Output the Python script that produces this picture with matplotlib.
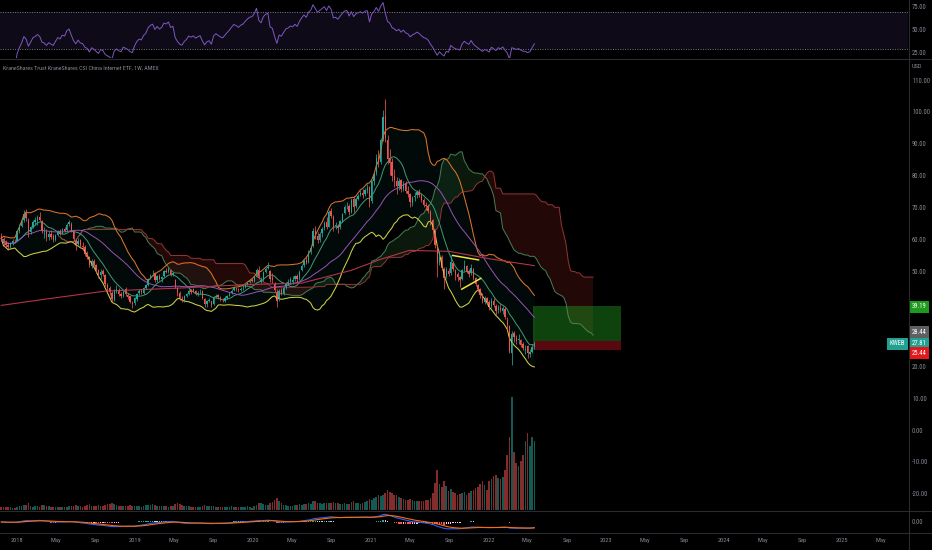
import numpy as np
import pandas as pd
import matplotlib
matplotlib.use("Agg")
import matplotlib.pyplot as plt
import matplotlib.dates as mdates
from matplotlib import font_manager
from matplotlib.lines import Line2D
from matplotlib.transforms import blended_transform_factory

# ---------------- weekly KWEB bars (first week starts 2017-11-13) ----------------
opens = [
    61.2, 60.4, 59.2,
    58.5, 57.9, 59.0, 59.8,
    59.9, 62.9, 64.6, 66.2, 68.4,
    66.5, 62.6, 64.3, 65.7,
    65.9, 67.3, 66.0, 62.1,
    62.6, 61.0, 62.0, 61.2, 60.0,
    61.7, 62.9, 62.0, 63.6,
    63.2, 65.0, 65.2, 62.8,
    60.1, 58.7, 60.0, 58.1, 58.0,
    55.5, 54.6, 52.0, 53.6,
    52.1, 50.5, 49.2, 50.3,
    49.1, 46.0, 45.0, 43.4, 41.3,
    44.1, 44.4, 43.0, 42.6,
    44.8, 42.8, 42.3, 40.4, 40.1,
    41.6, 43.3, 44.1, 43.5,
    45.0, 45.9, 48.0, 49.3,
    49.6, 47.5, 48.9, 47.7,
    48.7, 50.4, 50.1, 50.6, 49.0,
    47.4, 45.0, 43.4, 41.6,
    41.0, 42.5, 43.1, 44.2,
    44.6, 44.1, 43.0, 43.6, 43.9,
    41.5, 39.8, 41.0, 40.8,
    39.9, 42.0, 42.7, 41.8, 41.2,
    41.0, 41.9, 42.6, 43.3,
    44.2, 45.0, 44.7, 44.3,
    44.9, 45.2, 46.0, 46.7, 47.4,
    47.2, 48.5, 50.7, 46.9,
    47.8, 50.1, 51.2, 50.3,
    48.0, 46.2, 43.8, 41.5, 44.2,
    43.2, 45.2, 46.4, 47.0,
    46.8, 47.8, 48.9, 48.0,
    50.5, 52.1, 53.8, 53.0, 56.2,
    58.1, 63.0, 61.3, 60.0,
    62.2, 63.8, 65.6, 64.3, 69.1,
    67.4, 64.5, 64.4, 64.0,
    66.1, 68.6, 70.6, 70.7,
    69.0, 72.8, 70.6, 73.1, 74.2,
    75.0, 74.5, 75.9, 76.6,
    72.3, 78.7, 81.2, 86.3,
    84.5, 91.8, 99.0, 91.6,
    86.0, 84.5, 80.3, 78.6, 77.0,
    78.8, 76.2, 77.9, 75.6,
    74.4, 71.6, 73.5, 74.2, 75.3,
    74.0, 72.7, 71.0, 70.8,
    69.0, 66.2, 63.0, 58.0,
    53.3, 54.8, 51.0, 48.7, 50.3,
    49.6, 52.8, 50.5, 49.3,
    48.3, 47.8, 50.8, 51.9,
    50.2, 49.6, 51.0, 48.0, 45.8,
    44.6, 42.9, 40.6, 41.7,
    40.5, 39.2, 41.0, 39.3, 38.0,
    38.6, 37.6, 38.4, 35.0,
    32.9, 24.4, 30.9, 29.2,
    28.6, 28.5, 27.4, 25.5,
    26.6, 24.2, 25.0, 26.4,
]
highs = [
    62.3, 61.0, 60.1,
    59.3, 59.4, 60.5, 60.3,
    63.1, 65.2, 66.8, 69.4, 69.8,
    67.0, 64.6, 66.3, 67.4,
    68.0, 68.9, 66.4, 64.0,
    63.5, 62.9, 63.1, 61.9, 62.0,
    63.3, 63.6, 63.9, 64.2,
    65.3, 66.5, 65.7, 63.1,
    60.5, 60.6, 60.4, 59.3, 58.4,
    56.6, 55.0, 54.2, 54.0,
    52.5, 51.0, 50.9, 50.9,
    49.4, 46.5, 45.6, 44.1, 44.6,
    45.8, 44.9, 43.6, 44.3,
    45.3, 43.4, 42.6, 41.0, 42.1,
    43.5, 44.7, 44.6, 45.4,
    46.3, 48.2, 49.5, 50.6,
    49.9, 49.1, 49.4, 48.9,
    50.6, 51.2, 51.6, 50.9, 50.0,
    47.9, 45.4, 43.9, 42.3,
    42.7, 43.5, 44.6, 44.5,
    45.1, 44.3, 43.9, 44.5, 44.2,
    41.7, 41.2, 41.9, 41.0,
    42.3, 43.1, 43.0, 42.4, 41.8,
    42.3, 42.9, 43.6, 44.5,
    45.6, 45.4, 45.0, 45.2,
    45.8, 46.3, 47.0, 47.5, 48.0,
    48.8, 51.2, 51.9, 48.3,
    50.3, 51.7, 53.3, 50.6,
    49.7, 47.0, 44.6, 44.8, 45.0,
    45.6, 47.0, 47.8, 48.4,
    48.6, 49.2, 49.4, 50.5,
    52.6, 54.2, 55.0, 56.8, 58.1,
    63.9, 64.5, 62.6, 62.7,
    64.1, 66.0, 67.4, 69.5, 70.2,
    67.9, 65.8, 65.2, 66.4,
    68.7, 71.0, 72.1, 71.4,
    73.4, 73.9, 73.5, 74.6, 75.7,
    76.1, 76.4, 77.6, 77.2,
    79.0, 81.6, 87.0, 88.4,
    92.0, 101.0, 104.3, 93.2,
    88.6, 85.9, 82.4, 80.0, 79.6,
    79.4, 78.5, 78.6, 76.9,
    75.0, 74.0, 75.2, 75.9, 76.0,
    74.8, 73.2, 72.0, 71.3,
    69.6, 66.8, 63.6, 58.6,
    56.6, 55.4, 51.6, 51.5, 51.2,
    55.3, 53.3, 51.0, 50.0,
    48.9, 51.0, 53.7, 52.3,
    50.8, 52.5, 51.4, 48.5, 46.3,
    45.0, 43.5, 42.3, 42.0,
    41.2, 41.8, 41.7, 39.8, 39.6,
    39.8, 39.4, 38.9, 35.8,
    33.2, 31.6, 31.5, 30.1,
    30.4, 29.0, 28.1, 27.2,
    27.0, 25.8, 27.4, 28.4,
]
lows = [
    59.8, 58.3, 57.9,
    56.9, 57.2, 58.6, 59.0,
    59.6, 62.3, 64.0, 65.8, 66.1,
    61.0, 61.9, 63.9, 64.8,
    64.9, 65.9, 62.4, 60.6,
    59.7, 60.2, 60.5, 59.4, 59.6,
    61.2, 61.6, 61.8, 62.5,
    62.9, 64.4, 62.6, 59.8,
    57.0, 58.2, 57.7, 56.8, 55.1,
    54.0, 51.5, 51.2, 51.8,
    49.8, 48.2, 47.9, 48.9,
    45.6, 43.8, 42.8, 40.6, 40.9,
    43.5, 42.3, 41.7, 42.1,
    42.6, 41.6, 40.1, 38.8, 39.7,
    40.8, 42.9, 43.0, 43.1,
    44.6, 45.6, 47.7, 48.6,
    47.0, 46.9, 47.5, 46.8,
    48.5, 49.6, 49.7, 48.7, 48.6,
    44.9, 42.4, 41.2, 40.6,
    40.5, 42.0, 42.9, 43.1,
    43.7, 42.7, 42.6, 43.2, 41.6,
    38.9, 39.0, 40.5, 39.1,
    39.7, 41.8, 41.6, 41.0, 40.5,
    40.6, 41.6, 42.4, 43.0,
    44.0, 44.1, 43.6, 43.9,
    44.3, 44.9, 45.8, 46.4, 46.9,
    46.8, 48.3, 47.8, 46.4,
    47.1, 49.6, 50.9, 46.8,
    46.5, 43.6, 39.0, 41.0, 42.8,
    42.9, 44.8, 45.9, 46.5,
    46.2, 47.3, 46.7, 47.6,
    50.2, 51.6, 52.4, 52.8, 55.7,
    57.9, 60.3, 59.1, 59.4,
    61.0, 63.1, 63.6, 64.0, 67.0,
    62.8, 63.5, 62.3, 63.6,
    65.8, 68.2, 69.8, 68.0,
    68.5, 68.9, 70.1, 72.5, 73.8,
    73.2, 73.9, 74.8, 70.5,
    71.8, 77.4, 80.6, 83.1,
    84.0, 91.3, 91.0, 84.0,
    80.5, 78.6, 76.6, 74.5, 75.9,
    75.2, 75.5, 74.8, 73.7,
    70.3, 70.6, 72.4, 73.3, 73.5,
    71.9, 70.4, 69.5, 68.4,
    64.9, 62.0, 57.6, 48.4,
    52.1, 50.6, 44.8, 48.0, 48.6,
    49.2, 50.2, 47.6, 47.1,
    45.2, 47.4, 50.3, 49.6,
    48.3, 49.1, 47.6, 45.5, 43.8,
    41.9, 40.2, 39.8, 40.0,
    38.0, 38.7, 38.9, 36.4, 37.2,
    37.3, 36.9, 35.3, 31.9,
    24.6, 20.8, 28.0, 27.3,
    27.5, 26.5, 25.5, 24.2,
    23.0, 23.4, 24.6, 25.8,
]
closes = [
    60.5, 59.0, 58.6,
    57.8, 58.9, 59.6, 59.7,
    62.8, 64.5, 66.0, 68.2, 66.9,
    62.5, 64.0, 65.8, 66.3,
    67.1, 66.2, 63.0, 62.4,
    60.9, 61.8, 61.0, 60.2, 61.5,
    62.8, 62.1, 63.4, 63.0,
    64.9, 65.6, 63.1, 60.4,
    58.6, 59.9, 58.2, 57.9, 55.6,
    54.8, 52.1, 53.4, 52.3,
    50.7, 49.0, 50.1, 49.5,
    46.2, 44.9, 43.6, 41.5, 43.9,
    44.6, 43.1, 42.4, 43.8,
    43.0, 42.2, 40.6, 39.9, 41.8,
    43.2, 44.0, 43.6, 45.1,
    45.8, 47.9, 48.9, 49.4,
    47.6, 48.8, 47.9, 48.5,
    50.3, 50.0, 50.8, 49.1, 49.6,
    45.2, 43.3, 41.7, 41.2,
    42.3, 43.0, 44.1, 43.6,
    44.0, 43.1, 43.5, 43.8, 41.9,
    40.0, 40.8, 41.1, 39.6,
    41.9, 42.6, 42.0, 41.4, 41.1,
    41.8, 42.5, 43.2, 44.1,
    44.9, 44.6, 44.2, 44.8,
    45.1, 45.9, 46.6, 47.2, 47.3,
    48.4, 50.6, 48.2, 47.6,
    49.9, 51.0, 51.6, 47.9,
    47.5, 44.4, 40.9, 44.0, 43.4,
    45.0, 46.5, 46.9, 47.8,
    47.5, 48.6, 47.9, 50.1,
    52.0, 53.6, 52.9, 56.0, 57.6,
    62.8, 61.5, 60.2, 61.9,
    63.5, 65.4, 64.1, 68.9, 67.7,
    64.2, 64.6, 63.8, 65.9,
    68.3, 70.4, 70.9, 68.8,
    72.6, 70.5, 72.9, 74.0, 74.8,
    74.3, 75.8, 76.4, 72.0,
    78.5, 80.9, 86.0, 84.2,
    91.5, 98.6, 92.1, 85.6,
    84.2, 80.1, 79.0, 77.2, 78.5,
    76.0, 77.8, 75.4, 74.6,
    71.9, 73.3, 74.0, 75.1, 74.2,
    72.5, 71.1, 70.6, 69.2,
    66.0, 63.1, 58.4, 52.9,
    54.6, 51.3, 48.2, 50.5, 49.4,
    53.0, 50.8, 49.1, 48.5,
    47.6, 50.6, 52.0, 50.4,
    49.3, 51.2, 48.1, 46.2, 44.5,
    42.7, 40.8, 41.6, 40.6,
    39.0, 40.9, 39.5, 37.8, 38.9,
    37.9, 38.6, 36.0, 33.4,
    25.2, 30.4, 29.6, 28.4,
    28.8, 27.2, 26.0, 25.9,
    24.6, 24.9, 26.3, 27.81,
]
# weekly volume, millions of shares
volumes = [
    9, 8, 7,
    8, 7, 6, 5,
    9, 10, 11, 14, 13,
    18, 12, 9, 10,
    10, 9, 13, 14,
    12, 10, 9, 9, 8,
    8, 9, 8, 7,
    8, 10, 11, 12,
    13, 11, 10, 9, 12,
    13, 16, 12, 11,
    12, 13, 11, 10,
    15, 16, 17, 19, 16,
    14, 12, 11, 10,
    12, 11, 13, 12, 10,
    11, 10, 9, 12,
    13, 14, 15, 16,
    14, 12, 11, 10,
    11, 10, 9, 10, 11,
    17, 19, 16, 14,
    12, 11, 10, 9,
    9, 8, 8, 9, 10,
    14, 12, 11, 10,
    10, 9, 9, 8, 9,
    9, 8, 9, 10,
    9, 8, 8, 7,
    8, 9, 10, 7, 6,
    12, 15, 18, 20,
    16, 14, 13, 18,
    22, 28, 32, 24, 18,
    15, 13, 12, 11,
    12, 13, 15, 16,
    15, 16, 17, 18, 16,
    26, 24, 20, 18,
    17, 18, 19, 20, 18,
    22, 19, 18, 16,
    17, 18, 16, 17,
    22, 25, 20, 18, 17,
    20, 22, 24, 30,
    28, 32, 36, 40,
    38, 42, 48, 55,
    50, 46, 42, 40, 36,
    32, 30, 28, 27,
    30, 28, 26, 25, 24,
    26, 25, 27, 28,
    34, 48, 75, 110,
    70, 62, 80, 66, 52,
    58, 50, 46, 42,
    44, 48, 50, 42,
    46, 52, 56, 60, 64,
    72, 80, 68, 54,
    80, 86, 92, 96, 88,
    84, 90, 110, 150,
    200, 310, 160, 130,
    120, 135, 150, 190,
    210, 175, 200, 190,
]

# long-term (200-week) moving average, sampled along its path
ma200_dates = ["2017-11-13", "2018-04-01", "2018-10-01", "2019-06-01", "2019-12-01",
               "2020-06-01", "2020-11-01", "2021-02-01", "2021-05-01", "2021-09-01",
               "2022-01-01", "2022-05-23"]
ma200_vals = [39.5, 41.5, 44.0, 45.0, 46.0, 46.5, 50.5, 54.0, 56.8, 56.5, 54.2, 52.0]

# hand-drawn pennant lines
tri_upper_dates = ["2021-09-12", "2021-12-01"]
tri_upper_px = [55.2, 53.8]
tri_lower_dates = ["2021-10-10", "2021-12-08"]
tri_lower_px = [44.6, 48.0]

# long position tool
entry_px, target_px, stop_px = 28.44, 39.19, 25.44
last_px = 27.81
pos_start, pos_end = "2022-05-20", "2023-02-15"

price_ticks = [110, 100, 90, 80, 70, 60, 50, 20, 10, 0, -10, -20]
rsi_ticks = [75, 50, 25]
time_ticks = ["2018-01-01", "2018-05-01", "2018-09-01", "2019-01-01", "2019-05-01",
              "2019-09-01", "2020-01-01", "2020-05-01", "2020-09-01", "2021-01-01",
              "2021-05-01", "2021-09-01", "2022-01-01", "2022-05-01", "2022-09-01",
              "2023-01-01", "2023-05-01", "2023-09-01", "2024-01-01", "2024-05-01",
              "2024-09-01", "2025-01-01", "2025-05-01"]
time_labels = ["2018", "May", "Sep", "2019", "May", "Sep", "2020", "May", "Sep",
               "2021", "May", "Sep", "2022", "May", "Sep", "2023", "May", "Sep",
               "2024", "May", "Sep", "2025", "May"]
title = "KraneShares Trust KraneShares CSI China Internet ETF, 1W, AMEX"

# ---------------- fonts / colours ----------------
names = {f.name for f in font_manager.fontManager.ttflist}
FONT, LBL = "Lato", 4.0
for cand in ("Liberation Sans Narrow", "Roboto Condensed", "Open Sans Condensed", "Noto Sans Condensed"):
    if cand in names:
        FONT, LBL = cand, 4.8
        break
plt.rcParams["font.family"] = [FONT, "DejaVu Sans"]
BG = "#000000"
TXT = "#868993"
UP, DN = "#26a69a", "#ef5350"
SEP = "#2a2b30"

# ---------------- data frame and indicators ----------------
dates = pd.date_range("2017-11-13", periods=len(closes), freq="W-MON")
df = pd.DataFrame({"o": opens, "h": highs, "l": lows, "c": closes, "v": volumes}, index=dates)
c = df["c"]

basis = c.rolling(20, min_periods=1).mean()
sd = c.rolling(20, min_periods=1).std(ddof=0)
bb_up, bb_lo = basis + 2 * sd, basis - 2 * sd
sma10 = c.rolling(10, min_periods=1).mean()
sma30 = c.rolling(30, min_periods=1).mean()


def donchian_mid(n):
    return (df["h"].rolling(n, min_periods=1).max() + df["l"].rolling(n, min_periods=1).min()) / 2


tenkan, kijun, spanb_raw = donchian_mid(9), donchian_mid(26), donchian_mid(52)
future = pd.date_range(dates[-1] + pd.Timedelta(weeks=1), periods=26, freq="W-MON")
full_idx = dates.append(future)
span_a = ((tenkan + kijun) / 2).reindex(full_idx).shift(26)
span_b = spanb_raw.reindex(full_idx).shift(26)

delta = c.diff()
gain = delta.clip(lower=0).ewm(alpha=1 / 14, adjust=False).mean()
loss = (-delta.clip(upper=0)).ewm(alpha=1 / 14, adjust=False).mean()
rsi = 100 - 100 / (1 + gain / loss)

ema12 = c.ewm(span=12, adjust=False).mean()
ema26 = c.ewm(span=26, adjust=False).mean()
macd = ema12 - ema26
signal = macd.ewm(span=9, adjust=False).mean()
hist = macd - signal

x = mdates.date2num(dates)
xf = mdates.date2num(full_idx)

# ---------------- figure layout ----------------
W, H = 932, 550
fig = plt.figure(figsize=(W / 100, H / 100), dpi=100, facecolor=BG)
PLOT_W = 908


def panel(top, bottom):
    a = fig.add_axes([0, 1 - bottom / H, PLOT_W / W, (bottom - top) / H])
    a.set_facecolor(BG)
    for s in a.spines.values():
        s.set_visible(False)
    a.tick_params(length=0, labelleft=False, labelbottom=False)
    a.set_yticks([])
    return a


ax_rsi = panel(0, 58)
ax = panel(59, 510)
ax_macd = panel(511, 532)

xmin, xmax = mdates.date2num(pd.Timestamp("2017-11-09")), mdates.date2num(pd.Timestamp("2025-07-24"))
for a in (ax_rsi, ax, ax_macd):
    a.set_xlim(xmin, xmax)

# separators
for ypx in (58.5, 510.5, 532.5):
    fig.add_artist(Line2D([0, 1], [1 - ypx / H] * 2, color=SEP, lw=0.8, transform=fig.transFigure))
fig.add_artist(Line2D([(PLOT_W + 0.5) / W] * 2, [0, 1], color=SEP, lw=0.8, transform=fig.transFigure))


def right_labels(a, vals, fmt="{:.2f}"):
    tr = blended_transform_factory(a.transAxes, a.transData)
    for v in vals:
        a.text(1 + 4 / PLOT_W, v, fmt.format(v), transform=tr, ha="left", va="center",
               fontsize=LBL, color=TXT, clip_on=False)


# ---------------- RSI panel ----------------
ax_rsi.set_ylim(20, 83.3)
ax_rsi.axhspan(30, 70, color="#7e57c2", alpha=0.12, lw=0)
for lvl in (70, 30):
    ax_rsi.axhline(lvl, color="#787b86", lw=0.7, ls=(0, (1, 1.5)))
ax_rsi.plot(x, rsi, color="#7e57c2", lw=0.7)
right_labels(ax_rsi, rsi_ticks)

# ---------------- main price panel ----------------
ax.set_ylim(-24.84, 116.98)

# Ichimoku cloud
ax.fill_between(xf, span_a, span_b, where=span_a >= span_b, color="#43a047", alpha=0.16, lw=0, interpolate=True)
ax.fill_between(xf, span_a, span_b, where=span_a < span_b, color="#f44336", alpha=0.14, lw=0, interpolate=True)
ax.plot(xf, span_a, color="#4f8a5c", lw=0.7, alpha=0.9)
ax.plot(xf, span_b, color="#a33a3a", lw=0.7, alpha=0.9)

# Bollinger bands
ax.fill_between(x, bb_lo, bb_up, color="#26a69a", alpha=0.06, lw=0)
ax.plot(x, bb_up, color="#d9742b", lw=0.75)
ax.plot(x, bb_lo, color="#cfcf45", lw=0.75)

# moving averages
ax.plot(x, sma10, color="#3f9d74", lw=0.7)
ax.plot(x, sma30, color="#9b52b5", lw=0.7)
ax.plot(mdates.date2num(pd.to_datetime(ma200_dates)), ma200_vals, color="#b3344a", lw=0.8)

# candles
rising = (df["c"] >= df["o"]).to_numpy()
col = np.where(rising, UP, DN)
ax.vlines(x, df["l"], df["h"], colors=col, lw=0.55)
body_lo = np.minimum(df["o"], df["c"])
body_h = (df["c"] - df["o"]).abs().clip(lower=0.2)
ax.bar(x, body_h, bottom=body_lo, width=4.3, color=col, lw=0)

# pennant
ax.plot(mdates.date2num(pd.to_datetime(tri_upper_dates)), tri_upper_px, color="#f2e33a", lw=1.1)
ax.plot(mdates.date2num(pd.to_datetime(tri_lower_dates)), tri_lower_px, color="#f2e33a", lw=1.1)

# long position tool
px0, px1 = mdates.date2num(pd.Timestamp(pos_start)), mdates.date2num(pd.Timestamp(pos_end))
ax.fill_between([px0, px1], entry_px, target_px, color="#23a023", alpha=0.42, lw=0)
ax.fill_between([px0, px1], stop_px, entry_px, color="#b3101e", alpha=0.5, lw=0)

# volume overlay
ax_v = ax.twinx()
ax_v.set_xlim(xmin, xmax)
ax_v.set_ylim(0, max(volumes) * 451 / 113)
ax_v.bar(x, df["v"], width=5.0, color=col, alpha=0.55, lw=0)
ax_v.axis("off")

# price scale
right_labels(ax, price_ticks)
ax.text(1 + 4 / PLOT_W, 1 - 7 / 451, "USD", transform=ax.transAxes, ha="left", va="center",
        fontsize=LBL - 0.2, color=TXT, clip_on=False)


def price_tag(value, text, fc, dy_px=0.0, dx_px=4, ha="left"):
    ax.annotate(text, xy=(1, value), xycoords=blended_transform_factory(ax.transAxes, ax.transData),
                xytext=(dx_px, dy_px), textcoords="offset pixels", ha=ha, va="center",
                fontsize=LBL, color="white", annotation_clip=False,
                bbox=dict(boxstyle="square,pad=0.4", fc=fc, ec="none"))


price_tag(target_px, f"{target_px:.2f}", "#1e9a1e", dy_px=-0.5)
price_tag(entry_px, f"{entry_px:.2f}", "#5d5f63", dy_px=8.5)
price_tag(last_px, f"{last_px:.2f}", "#22a091", dy_px=-1.4)
price_tag(last_px, "KWEB", "#22a091", dy_px=-1.4, dx_px=-3, ha="right")
price_tag(stop_px, f"{stop_px:.2f}", "#e3171c", dy_px=-2.9)

ax.text(3 / PLOT_W, 1 - 9 / 451, title, transform=ax.transAxes, ha="left", va="center",
        fontsize=4.3, color=TXT)

# ---------------- MACD panel ----------------
ax_macd.set_ylim(-10, 11)
hist_prev = hist.shift(1)
hcol = np.where(hist >= 0,
                np.where(hist >= hist_prev, "#26a69a", "#b2dfdb"),
                np.where(hist < hist_prev, "#ff5252", "#ffcdd2"))
ax_macd.bar(x, hist, width=4.5, color=hcol, lw=0)
ax_macd.plot(x, macd, color="#2962ff", lw=0.8)
ax_macd.plot(x, signal, color="#ff6d00", lw=0.8)
right_labels(ax_macd, [0])

ax_macd.set_xticks(mdates.date2num(pd.to_datetime(time_ticks)))
ax_macd.set_xticklabels(time_labels)
ax_macd.tick_params(axis="x", length=0, pad=4, labelsize=4.6, labelcolor=TXT, labelbottom=True)

fig.savefig("out.png", dpi=100, facecolor=BG)
